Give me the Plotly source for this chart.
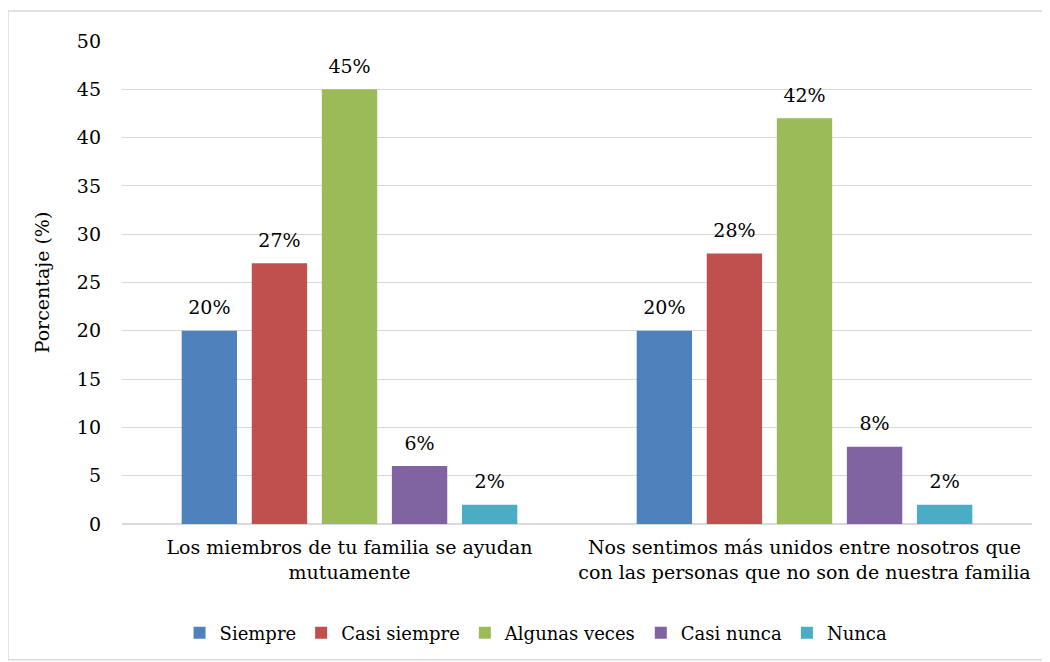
import plotly.graph_objects as go

categories = [
    "Los miembros de tu familia se ayudan<br>mutuamente",
    "Nos sentimos más unidos entre nosotros que<br>con las personas que no son de nuestra familia",
]
series_names = ["Siempre", "Casi siempre", "Algunas veces", "Casi nunca", "Nunca"]
siempre = [20, 20]
casi_siempre = [27, 28]
algunas_veces = [45, 42]
casi_nunca = [6, 8]
nunca = [2, 2]
colors = ["#4F81BD", "#C0504D", "#9BBB59", "#8064A2", "#4BACC6"]

font_family = "DejaVu Serif"

fig = go.Figure()
all_series = [siempre, casi_siempre, algunas_veces, casi_nunca, nunca]
for name, vals, col in zip(series_names, all_series, colors):
    fig.add_trace(go.Bar(
        x=categories, y=vals, name=name,
        marker=dict(color=col, line=dict(width=0)),
    ))

# value labels: invisible markers push the text a bit higher above the bars
for name, vals in zip(series_names, all_series):
    fig.add_trace(go.Scatter(
        x=categories, y=vals, name=name, mode="markers+text",
        text=[f"{v}%" for v in vals], textposition="top center",
        textfont=dict(size=19, color="#000000", family=font_family),
        marker=dict(size=17, color="rgba(0,0,0,0)"),
        showlegend=False, hoverinfo="skip", cliponaxis=False,
    ))

# page body has an 8px margin, so the figure is shrunk by 8px each way
fig.update_layout(
    width=1042, height=654,
    barmode="group", bargap=0.23, bargroupgap=0.21,
    scattermode="group", scattergap=0.23,
    plot_bgcolor="white", paper_bgcolor="white",
    margin=dict(l=114, r=18, t=33, b=137),
    font=dict(family=font_family, size=19, color="#000000"),
    yaxis=dict(
        range=[0, 50], dtick=5, showgrid=True, gridcolor="#d9d9d9", gridwidth=1.3,
        zeroline=True, zerolinecolor="#d9d9d9", zerolinewidth=1.5,
        showline=False, ticklabelstandoff=20,
        title=dict(text="Porcentaje (%)", font=dict(size=19), standoff=22),
    ),
    xaxis=dict(showline=False, ticks="", tickfont=dict(size=19), ticklabelstandoff=10),
    legend=dict(
        orientation="h", x=0.455, xanchor="center", y=-0.223, yanchor="middle",
        font=dict(size=18), itemwidth=30, traceorder="normal",
    ),
    shapes=[dict(
        type="rect", xref="paper", yref="paper",
        x0=-0.1253, x1=1.022, y0=-0.281, y1=1.062,
        line=dict(color="#d9d9d9", width=1.5), fillcolor="rgba(0,0,0,0)", layer="below",
    )],
)

fig.write_html("out.html")
